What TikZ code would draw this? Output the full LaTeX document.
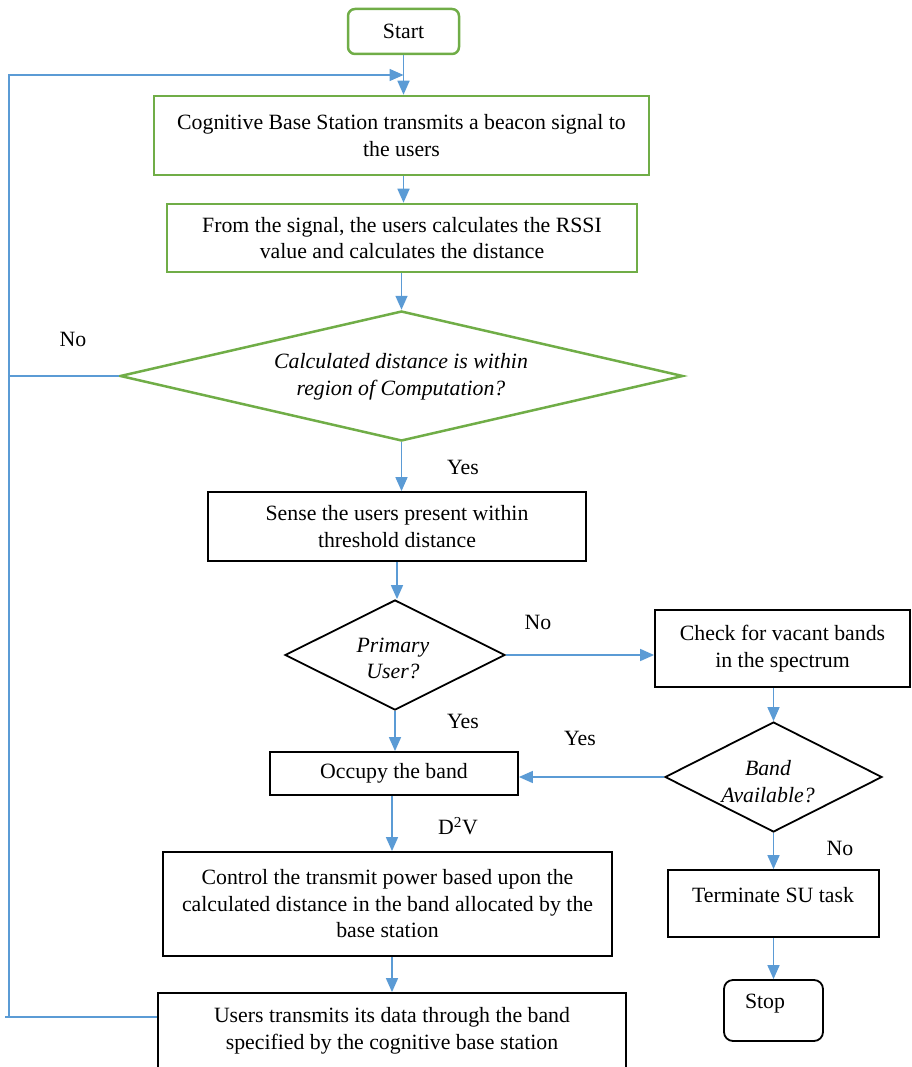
\documentclass[tikz,border=0pt]{standalone}
\usepackage{fontspec}
\setmainfont{Liberation Serif}
\usetikzlibrary{shapes.geometric,arrows.meta}
\definecolor{grn}{RGB}{112,173,71}
\definecolor{blu}{RGB}{91,155,213}
\begin{document}
\begin{tikzpicture}[x=1pt,y=-1pt,
  every node/.style={font=\fontsize{21.8}{26.5}\selectfont, align=center},
  gbox/.style={draw=grn, line width=2.5pt, inner sep=0pt},
  bbox/.style={draw=black, line width=1.8pt, inner sep=0pt},
  gdia/.style={draw=grn, line width=2.5pt, diamond, inner sep=0pt},
  bdia/.style={draw=black, line width=1.8pt, diamond, inner sep=0pt},
  txt/.style={inner sep=1pt},
  itx/.style={inner sep=1pt, font=\fontsize{21.8}{26.5}\selectfont\itshape},
  bl/.style={draw=blu, line width=1.6pt},
  arr/.style={draw=blu, line width=1.6pt, -{Triangle[length=14pt,width=12pt]}}]
\useasboundingbox (0,0) rectangle (911,1067);
\clip (0,0) rectangle (911,1067);

% nodes
\node[gbox, rounded corners=7pt, minimum width=111pt, minimum height=45pt] (start) at (403.5,31.5) {Start};
\node[gbox, minimum width=495pt, minimum height=79pt] (b1) at (401.5,135.5) {Cognitive Base Station transmits a beacon signal to\\the users};
\node[gbox, minimum width=470pt, minimum height=68pt] (b2) at (402,238) {From the signal, the users calculates the RSSI\\value and calculates the distance};
\node[gdia, minimum width=563pt, minimum height=130pt] (d1) at (401.5,376) {};
\node[itx] (d1t) at (401,377) {Calculated distance is within\\region of Computation?};
\node[bbox, minimum width=378pt, minimum height=69pt] (b3) at (397,526.5) {Sense the users present within\\threshold distance};
\node[bdia, minimum width=220pt, minimum height=110pt] (d2) at (395,655) {};
\node[itx] (d2t) at (393,658.5) {Primary\\User?};
\node[bbox, minimum width=255pt, minimum height=77pt] (b4) at (782.5,648.5) {Check for vacant bands\\in the spectrum};
\node[bdia, minimum width=217pt, minimum height=110pt] (d3) at (773.5,777) {};
\node[itx] (d3t) at (768,781.5) {Band\\Available?};
\node[bbox, minimum width=248pt, minimum height=43pt] (b5) at (394,773.5) {Occupy the band};
\node[bbox, minimum width=449pt, minimum height=104pt] (b6) at (387.5,904) {Control the transmit power based upon the\\calculated distance in the band allocated by the\\base station};
\node[bbox, minimum width=468pt, minimum height=100pt] (b7) at (392,1043) {};
\node[txt] (b7t) at (392,1031) {Users transmits its data through the band\\specified by the cognitive base station};
\node[bbox, minimum width=211pt, minimum height=67pt] (b8) at (773.5,903.5) {};
\node[txt] (b8t) at (773,895) {Terminate SU task};
\node[bbox, rounded corners=9pt, minimum width=99pt, minimum height=61pt] (stop) at (773.5,1010.5) {};
\node[txt] (stopt) at (765,1004) {Stop};

% labels
\node[txt] (no1) at (73,339) {No};
\node[txt] (yes1) at (463,467) {Yes};
\node[txt] (no2) at (538,622) {No};
\node[txt] (yes2) at (463,721) {Yes};
\node[txt] (yes3) at (580,738) {Yes};
\node[txt] (d2v) at (458,826) {D\textsuperscript{2}V};
\node[txt] (no3) at (840,848) {No};

% coordinates for loop
\coordinate (L1) at (9,75);
\coordinate (L2) at (9,1017);
\coordinate (tick) at (5,1017);
\coordinate (cx) at (392,0);

% connectors
\draw[arr] (start.south) -- (start.south |- b1.north);
\draw[arr] (L2) -- (L1) -- (start.south |- L1);
\draw[bl] (b7.west |- L2) -- (tick);
\draw[bl] (d1.west) -- (d1.west -| L1);
\draw[arr] (b1.south -| start.south) -- (start.south |- b2.north);
\draw[arr] (d1.north |- b2.south) -- (d1.north);
\draw[arr] (d1.south) -- (d1.south |- b3.north);
\draw[arr] (b3.south) -- (d2.north -| b3.south);
\draw[arr] (d2.east) -- (d2.east -| b4.west);
\draw[arr] (b4.south -| d3.north) -- (d3.north);
\draw[arr] (d3.west) -- (d3.west -| b5.east);
\draw[arr] (d2.south) -- (d2.south |- b5.north);
\draw[arr] (b5.south -| cx) -- (b6.north -| cx);
\draw[arr] (b6.south -| cx) -- (b7.north -| cx);
\draw[arr] (d3.south) -- (d3.south |- b8.north);
\draw[arr] (b8.south -| stop.north) -- (stop.north);
\end{tikzpicture}
\end{document}
